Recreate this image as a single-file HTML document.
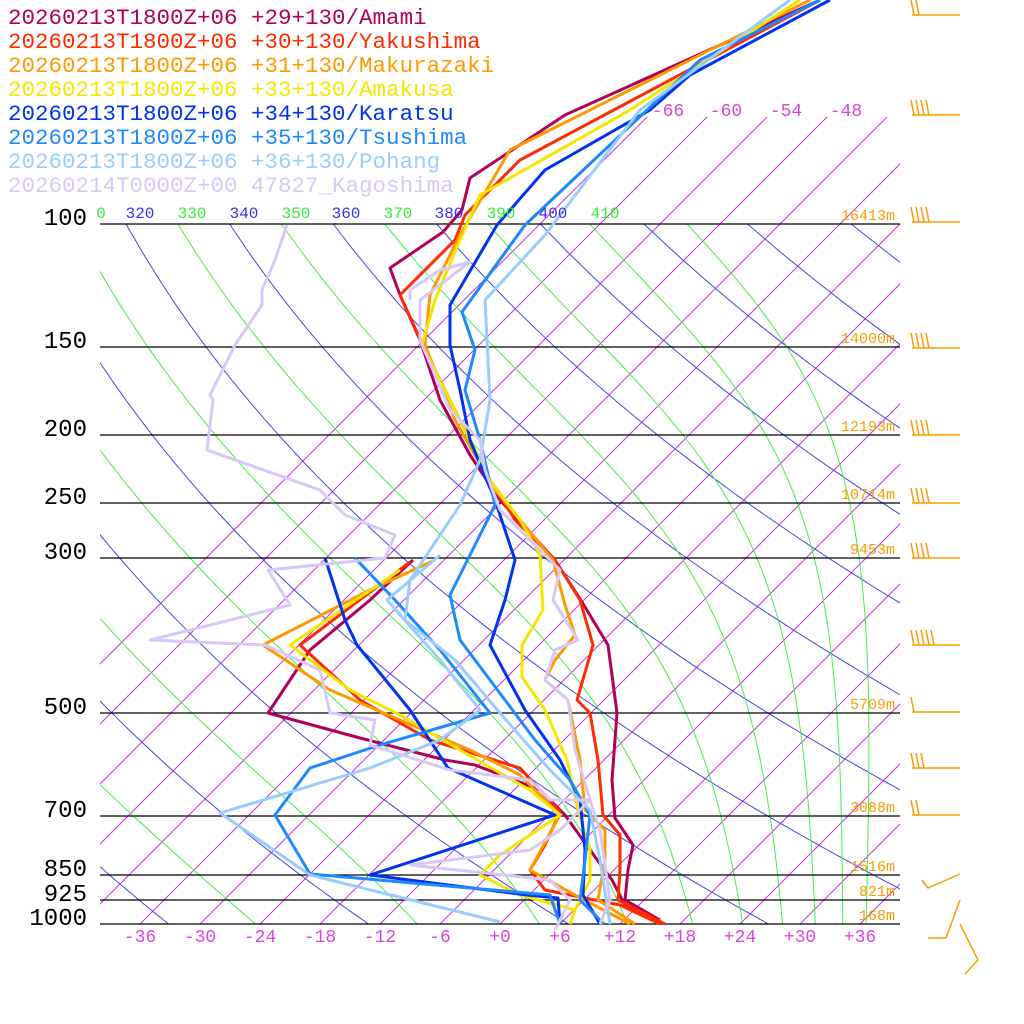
<!DOCTYPE html>
<html><head><meta charset="utf-8"><style>
html,body{margin:0;padding:0;background:#fff;width:1024px;height:1024px;overflow:hidden}
svg{display:block}
</style></head><body>
<svg id="s" width="1024" height="1024" xmlns="http://www.w3.org/2000/svg" font-family="Liberation Mono, monospace">
<defs>
<clipPath id="c1"><rect x="100" y="117" width="800" height="807"/></clipPath>
<clipPath id="c2"><rect x="100" y="205" width="800" height="719"/></clipPath>
</defs>
<g id="bg"></g>
<g id="snd" fill="none" stroke-width="3" stroke-linejoin="round"></g>
<g id="txt"></g>
</svg>
<script>
var NS="http://www.w3.org/2000/svg";
function el(p,t,a,txt){var e=document.createElementNS(NS,t);for(var k in a)e.setAttribute(k,a[k]);if(txt!==undefined)e.textContent=txt;p.appendChild(e);return e;}
var bg=document.getElementById('bg'),snd=document.getElementById('snd'),tx=document.getElementById('txt');
function Y(p){return 224+304*Math.log(p/100);}
function X(T,y){return 500+10*T+(924-y);}
// isotherms
var g1=el(bg,'g',{'clip-path':'url(#c1)',stroke:'#cc33dd','stroke-width':1});
for(var T=-66;T<=42;T+=6){var x0=X(T,924);el(g1,'line',{x1:x0,y1:924,x2:x0+824,y2:100});}
var g2=el(bg,'g',{'clip-path':'url(#c2)',fill:'none','stroke-width':1});
// dry adiabats
for(var th=200;th<=520;th+=20){var d='';for(var p=100;p<=1000;p+=10){var t=th*Math.pow(p/1000,0.2857)-273.15;var y=Y(p);d+=(p==100?'M':'L')+X(t,y).toFixed(1)+','+y.toFixed(1);}el(g2,'path',{d:d,stroke:'#4444ee'});}
// moist (theta-e) lines
function es(t){return 6.112*Math.exp(17.67*t/(t+243.5));}
function the(t,p){var r=0.622*es(t)/(p-es(t));return (t+273.15)*Math.pow(1000/p,0.2857)*Math.exp(2.5e6*r/(1004*(t+273.15)));}
for(var te=230;te<=430;te+=20){var d='';var first=true;for(var p=100;p<=1000;p+=10){var lo=-120,hi=50;for(var i=0;i<40;i++){var m=(lo+hi)/2;if(the(m,p)<te)lo=m;else hi=m;}var y=Y(p);d+=(first?'M':'L')+X(lo,y).toFixed(1)+','+y.toFixed(1);first=false;}el(g2,'path',{d:d,stroke:'#44ee44'});}
// isobars
var P=[[100,'100','16413m'],[150,'150','14000m'],[200,'200','12193m'],[250,'250','10714m'],[300,'300','9453m'],[500,'500','5709m'],[700,'700','3088m'],[850,'850','1516m'],[925,'925','821m'],[1000,'1000','168m']];
P.forEach(function(a){var y=Math.round(Y(a[0]));el(bg,'line',{x1:100,y1:y,x2:900,y2:y,stroke:'#000','stroke-width':1.2});
el(tx,'text',{x:87,y:y+1,'text-anchor':'end','font-size':24,fill:'#000'},a[1]);
el(tx,'text',{x:895,y:y-4,'text-anchor':'end','font-size':15,fill:'#ff9900'},a[2]);});
// bottom labels
for(var T=-36;T<=36;T+=6){el(tx,'text',{x:500+10*T,y:942,'text-anchor':'middle','font-size':18,fill:'#dd44dd'},(T>=0?'+':'')+T);}
[[-66,668],[-60,726],[-54,786],[-48,846]].forEach(function(a){el(tx,'text',{x:a[1],y:116,'text-anchor':'middle','font-size':18,fill:'#dd44dd'},a[0]);});
[['0',101,'#33ee33'],['320',140,'#3333ee'],['330',192,'#33ee33'],['340',244,'#3333ee'],['350',296,'#33ee33'],['360',346,'#3333ee'],['370',398,'#33ee33'],['380',449,'#3333ee'],['390',501,'#33ee33'],['400',553,'#3333ee'],['410',605,'#33ee33']].forEach(function(a){el(tx,'text',{x:a[1],y:218,'text-anchor':'middle','font-size':16,fill:a[2]},a[0]);});
// soundings
var S=[
['#b0005a','20260213T1800Z+06 +29+130/Amami',
'820,0 565,115 470,178 462,210 443,232 390,268 400,295 420,340 440,400 470,455 500,500 555,560 582,602 608,645 617,713 612,780 615,818 633,845 628,870 625,900 660,920',
'413,560 370,600 310,650 268,713 360,738 445,760 475,765 540,790 565,815 590,850 612,880 625,905 660,924'],
['#ff2a00','20260213T1800Z+06 +30+130/Yakushima',
'820,0 520,160 465,215 455,240 400,295 425,350 460,420 490,480 515,520 555,560 580,600 593,645 577,700 590,713 598,760 603,815 620,835 620,870 618,900 665,924',
'410,562 300,645 360,700 430,740 520,768 560,812 545,845 530,870 545,890 620,905 660,924'],
['#ff9900','20260213T1800Z+06 +31+130/Makurazaki',
'810,0 510,150 460,235 430,295 425,345 455,420 495,490 520,520 553,560 565,605 575,635 555,660 545,680 568,700 580,760 585,810 605,830 605,860 598,900 635,924',
'435,560 370,590 263,645 330,690 400,720 470,750 520,775 560,815 530,870 575,895 630,924'],
['#f5e600','20260213T1800Z+06 +33+130/Amakusa',
'800,0 630,110 480,195 460,240 435,300 422,345 455,410 490,480 520,520 540,555 543,610 522,645 522,677 545,710 567,760 578,810 590,850 590,880 575,910 570,924',
'400,570 290,645 350,690 400,715 460,750 530,790 560,815 500,855 480,875 520,895 575,910'],
['#0033ee','20260213T1800Z+06 +34+130/Karatsu',
'830,0 690,75 650,110 545,170 497,225 450,305 450,345 460,390 470,440 495,500 515,560 505,600 490,645 525,710 560,760 580,800 585,850 583,895 600,924',
'325,558 345,620 357,645 410,710 433,745 448,768 555,815 370,875 527,895 558,898 560,924'],
['#1e88ff','20260213T1800Z+06 +35+130/Tsushima',
'820,0 700,60 525,225 462,312 475,350 465,390 480,440 495,505 450,595 460,640 490,680 535,740 570,780 590,815 585,860 580,900 604,924',
'355,558 395,600 440,650 490,713 380,745 310,768 275,815 310,874 550,895 560,924'],
['#99ccff','20260213T1800Z+06 +36+130/Pohang',
'790,0 640,110 545,235 485,300 490,400 480,460 460,505 410,580 405,620 455,660 500,713 550,770 590,810 600,860 610,924',
'440,555 387,600 440,660 480,710 440,740 370,768 220,813 310,875 500,922'],
['#d8c8f8','20260214T0000Z+00 47827_Kagoshima',
'410,300 410,290 440,270 470,262 420,300 420,340 450,410 480,440 485,470 500,510 560,570 553,600 578,640 555,650 545,680 568,700 575,750 590,800 600,830 610,900 600,924',
'287,225 275,260 262,290 262,305 235,345 210,395 213,400 207,450 320,490 345,515 395,535 385,558 268,570 290,605 150,640 265,645 320,670 330,713 375,720 370,745 450,770 530,780 550,800 590,800 560,830 530,850 410,865 550,880 570,900 555,930']
];
S.forEach(function(s,i){el(snd,'polyline',{points:s[2],stroke:s[0]});el(snd,'polyline',{points:s[3],stroke:s[0]});
el(tx,'text',{x:8,y:24+i*24,'font-size':22.5,fill:s[0]},s[1]);});
// wind barbs
var W=[[15,2],[115,4],[222,4],[348,4],[435,4],[503,4],[558,4],[645,5],[712,1],[768,3],[815,2]];
var gw=el(bg,'g',{stroke:'#ff9900','stroke-width':1.5,fill:'none'});
W.forEach(function(w){var y=w[0];el(gw,'line',{x1:912,y1:y,x2:960,y2:y});for(var k=0;k<w[1];k++){var x=914+k*5;el(gw,'line',{x1:x,y1:y,x2:x-3,y2:y-15});}});
el(gw,'polyline',{points:'922,880 928,888 960,874'});
el(gw,'polyline',{points:'928,938 946,938 960,900'});
el(gw,'polyline',{points:'960,924 978,960 965,974'});
</script>
</body></html>
